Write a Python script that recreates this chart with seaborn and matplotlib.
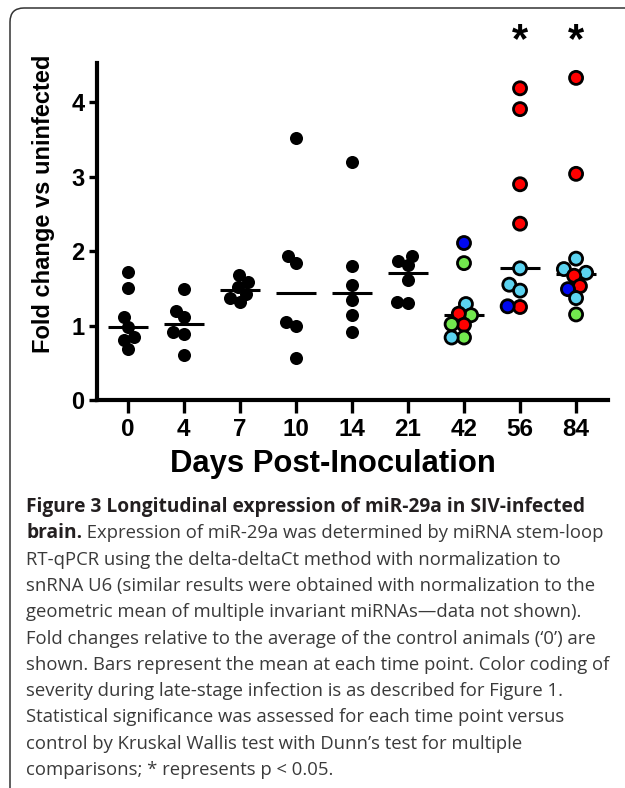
import numpy as np
import pandas as pd
import matplotlib
matplotlib.use("Agg")
import matplotlib.pyplot as plt
import seaborn as sns
from matplotlib.patches import FancyBboxPatch
from matplotlib.transforms import IdentityTransform

# ---------------- data ----------------
days = ["0", "4", "7", "10", "14", "21", "42", "56", "84"]

fold_d0 = [1.11, 1.50, 1.72, 0.85, 0.98, 0.81, 0.68]
fold_d4 = [0.92, 1.49, 1.20, 1.11, 0.89, 0.60]
fold_d7 = [1.68, 1.59, 1.52, 1.43, 1.32, 1.37]
fold_d10 = [3.52, 1.94, 1.84, 1.05, 0.99, 0.56]
fold_d14 = [3.20, 1.80, 1.55, 1.34, 1.14, 0.92]
fold_d21 = [1.81, 1.94, 1.87, 1.61, 1.30, 1.32]

fold_d42 = [2.11, 1.84, 1.29, 1.14, 1.16, 1.01, 1.02, 0.84, 0.84]
sev_d42 = ["blue", "green", "cyan", "green", "red", "red", "green", "green", "cyan"]
fold_d56 = [4.19, 3.91, 2.90, 2.37, 1.77, 1.55, 1.47, 1.25, 1.26]
sev_d56 = ["red", "red", "red", "red", "cyan", "cyan", "cyan", "red", "blue"]
fold_d84 = [4.33, 3.04, 1.90, 1.76, 1.71, 1.67, 1.53, 1.49, 1.37, 1.15]
sev_d84 = ["red", "red", "cyan", "cyan", "cyan", "red", "red", "blue", "cyan", "green"]

significant_days = ["56", "84"]

ylabel = "Fold change vs uninfected"
xlabel = "Days Post-Inoculation"
caption_title = "Figure 3 Longitudinal expression of miR-29a in SIV-infected"
caption_lead = "brain."
caption_lines = [
    " Expression of miR-29a was determined by miRNA stem-loop",
    "RT-qPCR using the delta-deltaCt method with normalization to",
    "snRNA U6 (similar results were obtained with normalization to the",
    "geometric mean of multiple invariant miRNAs\u2014data not shown).",
    "Fold changes relative to the average of the control animals (\u20180\u2019) are",
    "shown. Bars represent the mean at each time point. Color coding of",
    "severity during late-stage infection is as described for Figure 1.",
    "Statistical significance was assessed for each time point versus",
    "control by Kruskal Wallis test with Dunn\u2019s test for multiple",
    "comparisons; * represents p < 0.05.",
]

palette = {"red": "#FF0000", "cyan": "#5CD3F0", "green": "#72E84E", "blue": "#0008F0"}

# ---------------- table ----------------
rows = []
for d, vals in zip(days[:6], [fold_d0, fold_d4, fold_d7, fold_d10, fold_d14, fold_d21]):
    for v in vals:
        rows.append((d, v, "none"))
for d, vals, sev in zip(days[6:], [fold_d42, fold_d56, fold_d84], [sev_d42, sev_d56, sev_d84]):
    for v, s in zip(vals, sev):
        rows.append((d, v, s))
df = pd.DataFrame(rows, columns=["day", "fold", "severity"])
early = df[df["severity"] == "none"]
late = df[df["severity"] != "none"]

# ---------------- style ----------------
sns.set_style("ticks")
plt.rcParams["font.family"] = ["Liberation Sans", "DejaVu Sans"]
plt.rcParams["font.weight"] = "bold"
plt.rcParams["text.color"] = "black"
plt.rcParams["axes.labelcolor"] = "black"
plt.rcParams["xtick.color"] = "black"
plt.rcParams["ytick.color"] = "black"

W, H = 625, 788
fig = plt.figure(figsize=(W / 100, H / 100), dpi=100)
fig.patch.set_facecolor("white")

ax_l, ax_r, ax_t, ax_b = 97, 608, 63, 400
ax = fig.add_axes([ax_l / W, 1 - ax_b / H, (ax_r - ax_l) / W, (ax_b - ax_t) / H])

# median bars
sns.boxplot(data=df, x="day", y="fold", order=days, ax=ax,
            showbox=False, showcaps=False, showfliers=False,
            whiskerprops={"visible": False},
            medianprops={"color": "black", "linewidth": 2.2, "solid_capstyle": "butt"},
            width=0.72, zorder=1)

# swarm layout computed with a slightly smaller marker so points overlap a little
n0 = len(ax.collections)
sns.swarmplot(data=early, x="day", y="fold", order=days, color="black",
              size=7.4, linewidth=0, ax=ax, zorder=3)
n1 = len(ax.collections)
sns.swarmplot(data=late, x="day", y="fold", order=days, hue="severity",
              palette=palette, size=7.0, linewidth=1.5, edgecolor="black",
              ax=ax, legend=False, zorder=3)
n2 = len(ax.collections)

ax.set_xlim(-0.55, 8.57)
ax.set_ylim(0, 4.53)
ax.set_yticks([0, 1, 2, 3, 4])
ax.set_yticklabels(["0", "1", "2", "3", "4"])

for s in ["top", "right"]:
    ax.spines[s].set_visible(False)
for s in ["left", "bottom"]:
    ax.spines[s].set_linewidth(3.0)
    ax.spines[s].set_color("black")
ax.tick_params(axis="y", direction="out", length=6, width=2.4, pad=3,
               labelsize=17, colors="black")
ax.tick_params(axis="x", direction="out", length=9, width=2.4, pad=4,
               labelsize=17.5, colors="black")
for lab in ax.get_xticklabels() + ax.get_yticklabels():
    lab.set_fontweight("bold")

ax.set_xlabel(xlabel, fontsize=22.3, fontweight="bold", va="center", ha="center")
ax.xaxis.set_label_coords((333 - ax_l) / (ax_r - ax_l), (ax_b - 464) / (ax_b - ax_t))
ax.set_ylabel(ylabel, fontsize=17, fontweight="bold", va="center", ha="center")
ax.yaxis.set_label_coords((44 - ax_l) / (ax_r - ax_l), (ax_b - 204) / (ax_b - ax_t))

# freeze the swarm positions, then enlarge the markers
fig.canvas.draw()
for i, coll in enumerate(ax.collections):
    if "draw" in coll.__dict__:
        del coll.draw
    if n0 <= i < n1:
        coll.set_sizes([9.4 ** 2])
    elif n1 <= i < n2:
        coll.set_sizes([9.4 ** 2])
        coll.set_linewidth(2.0)

# significance stars
for d in significant_days:
    ax.text(days.index(d), 4.68, "*", ha="center", va="baseline",
            fontsize=30, fontweight="bold", color="black", clip_on=False)

# ---------------- caption ----------------
renderer = fig.canvas.get_renderer()
cap_font = ["Open Sans", "DejaVu Sans"]
x0 = 26
base_y = 512
line_h = 26.3


def fy(py):
    return 1 - py / H


t1 = fig.text(x0 / W, fy(base_y), caption_title, fontsize=13, fontweight="bold",
              family=cap_font, color="#231F20", va="baseline", ha="left")
w1 = t1.get_window_extent(renderer).width
bold_size = 13 * 552 / w1
t1.set_fontsize(bold_size)

tb = fig.text(x0 / W, fy(base_y + line_h), caption_lead, fontsize=bold_size,
              fontweight="bold", family=cap_font, color="#231F20",
              va="baseline", ha="left")
wb = tb.get_window_extent(renderer).width

probe = fig.text(0, 0, caption_lines[2], fontsize=13, fontweight="normal",
                 family=cap_font)
wp = probe.get_window_extent(renderer).width
probe.remove()
body_size = 13 * 566 / wp

for i, line in enumerate(caption_lines):
    xx = x0 + (wb if i == 0 else 0)
    fig.text(xx / W, fy(base_y + (i + 1) * line_h), line, fontsize=body_size,
             fontweight="normal", family=cap_font, color="#3A3A3A",
             va="baseline", ha="left")

# rounded frame
frame = FancyBboxPatch((10, -40), 700, H - 8 + 40,
                       boxstyle="round,pad=0,rounding_size=14",
                       transform=IdentityTransform(), fill=False,
                       edgecolor="#333333", linewidth=1.1)
fig.patches.append(frame)

fig.savefig("out.png", dpi=100, facecolor="white")
